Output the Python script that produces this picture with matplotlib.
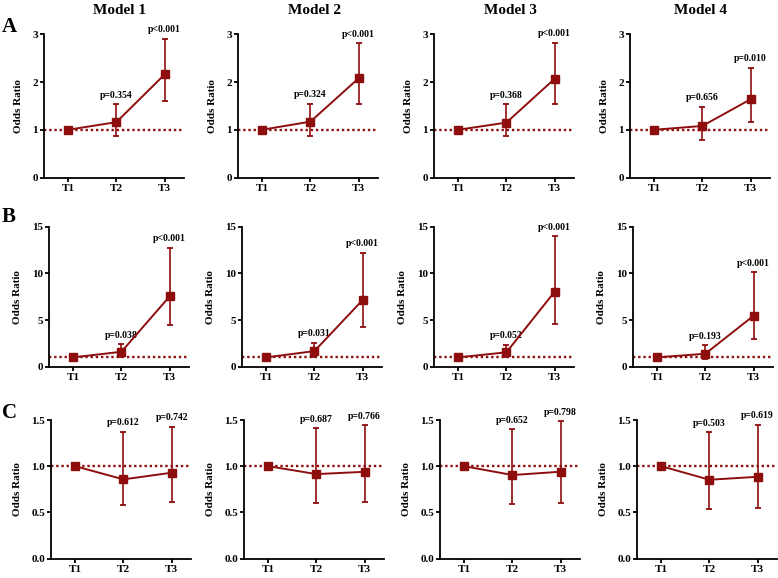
import matplotlib
matplotlib.use("Agg")
import matplotlib.pyplot as plt

plt.rcParams["font.family"] = ["Liberation Serif", "DejaVu Serif"]
plt.rcParams["font.weight"] = "bold"

timepoints = ["T1", "T2", "T3"]
models = ["Model 1", "Model 2", "Model 3", "Model 4"]
panels = ["A", "B", "C"]

# row A
or_a = [[1, 1.16, 2.16], [1, 1.17, 2.08], [1, 1.15, 2.07], [1, 1.08, 1.64]]
lo_a = [[1, 0.87, 1.61], [1, 0.875, 1.54], [1, 0.86, 1.53], [1, 0.79, 1.17]]
hi_a = [[1, 1.54, 2.91], [1, 1.55, 2.81], [1, 1.54, 2.82], [1, 1.48, 2.30]]
p_a = [["p=0.354", "p<0.001"], ["p=0.324", "p<0.001"],
       ["p=0.368", "p<0.001"], ["p=0.656", "p=0.010"]]

# row B
or_b = [[1, 1.60, 7.54], [1, 1.67, 7.15], [1, 1.54, 8.04], [1, 1.39, 5.47]]
lo_b = [[1, 1.05, 4.46], [1, 1.09, 4.23], [1, 1.00, 4.57], [1, 0.85, 3.00]]
hi_b = [[1, 2.43, 12.75], [1, 2.56, 12.2], [1, 2.36, 14.0], [1, 2.28, 10.1]]
p_b = [["p=0.038", "p<0.001"], ["p=0.031", "p<0.001"],
       ["p=0.052", "p<0.001"], ["p=0.193", "p<0.001"]]

# row C
or_c = [[1, 0.857, 0.929], [1, 0.914, 0.939], [1, 0.904, 0.940], [1, 0.853, 0.885]]
lo_c = [[1, 0.578, 0.607], [1, 0.597, 0.611], [1, 0.585, 0.600], [1, 0.536, 0.547]]
hi_c = [[1, 1.373, 1.428], [1, 1.410, 1.442], [1, 1.403, 1.486], [1, 1.367, 1.450]]
p_c = [["p=0.612", "p=0.742"], ["p=0.687", "p=0.766"],
       ["p=0.652", "p=0.798"], ["p=0.503", "p=0.619"]]

rows = [
    (or_a, lo_a, hi_a, p_a, (0, 3), [0, 1, 2, 3], ["0", "1", "2", "3"]),
    (or_b, lo_b, hi_b, p_b, (0, 15), [0, 5, 10, 15], ["0", "5", "10", "15"]),
    (or_c, lo_c, hi_c, p_c, (0, 1.5), [0, 0.5, 1.0, 1.5], ["0.0", "0.5", "1.0", "1.5"]),
]

RED = "#8E0E0E"
W, H = 778, 578

# layout in pixels: spine x per column, top/bottom y per row
spine_x = [[44, 238, 434, 630], [49, 242, 434, 633], [51, 244, 440, 637]]
row_y = [(34.3, 177.5), (226.7, 366.7), (420, 558.5)]
ax_w = 140
ylab_x = [-0.15, -0.19, -0.21]
title_x = [120, 314, 510, 700]
letter_y = [27, 217, 413]

fig = plt.figure(figsize=(W / 100, H / 100), dpi=100)

for r, (vals, lo, hi, pv, ylim, yt, ytl) in enumerate(rows):
    top, bot = row_y[r]
    for c in range(4):
        ax = fig.add_axes([spine_x[r][c] / W, 1 - bot / H, ax_w / W, (bot - top) / H])
        x = [1, 2, 3]
        y = vals[c]
        err = [[y[i] - lo[c][i] for i in range(3)], [hi[c][i] - y[i] for i in range(3)]]
        ax.axhline(1, color=RED, lw=1.7, linestyle=(0, (1, 1.2)), zorder=1)
        ax.errorbar(x, y, yerr=err, color=RED, lw=1.4, marker="s", markersize=5.5,
                    capsize=2.4, capthick=1.3, elinewidth=1.2, zorder=3)
        for i in (1, 2):
            ax.annotate(pv[c][i - 1], (x[i], hi[c][i]), xytext=(0, 3.2),
                        textcoords="offset points", ha="center", va="bottom",
                        fontsize=7, fontweight="bold")
        ax.set_xlim(0.5, 3.4)
        ax.set_ylim(*ylim)
        ax.set_xticks(x)
        ax.set_xticklabels(timepoints)
        ax.set_yticks(yt)
        ax.set_yticklabels(ytl)
        for s in ("top", "right"):
            ax.spines[s].set_visible(False)
        for s in ("left", "bottom"):
            ax.spines[s].set_linewidth(1.3)
        ax.tick_params(axis="both", width=1.3, length=2.8, labelsize=8, pad=1.5)
        ax.tick_params(axis="x", pad=2)
        for lab in ax.get_xticklabels() + ax.get_yticklabels():
            lab.set_fontweight("bold")
        ax.set_ylabel("Odds Ratio", fontsize=8, fontweight="bold")
        ax.yaxis.set_label_coords(ylab_x[r], 0.5)
        if r == 0:
            fig.text(title_x[c] / W, 1 - 11 / H, models[c], ha="center", va="center",
                     fontsize=11, fontweight="bold")
    fig.text(2 / W, 1 - letter_y[r] / H, panels[r], ha="left", va="center",
             fontsize=15, fontweight="bold")

fig.savefig("out.png", dpi=100)
